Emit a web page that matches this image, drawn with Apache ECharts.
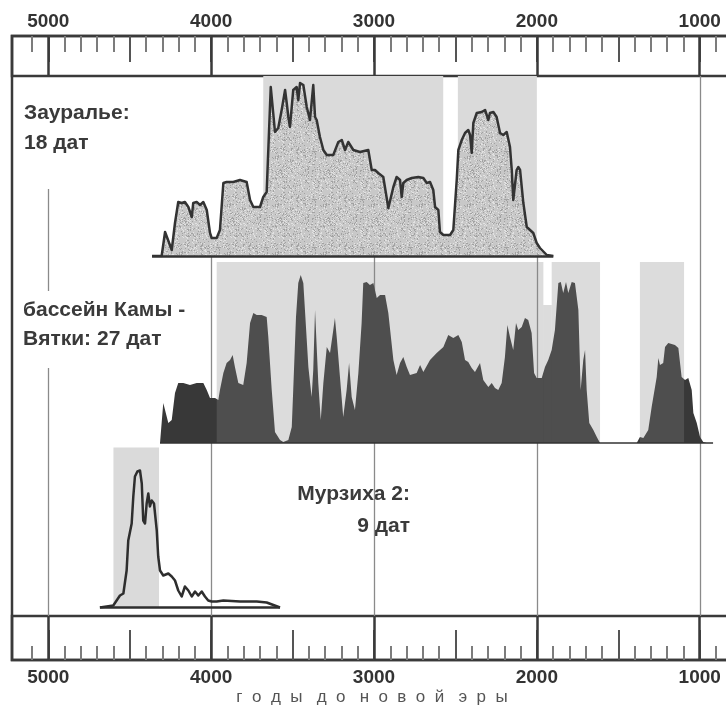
<!DOCTYPE html>
<html>
<head>
<meta charset="utf-8">
<title>Суммы вероятностей радиоуглеродных дат</title>
<script src="https://cdn.jsdelivr.net/npm/echarts@6.0.0/dist/echarts.min.js"></script>
<style>
  html, body { margin: 0; padding: 0; background: #ffffff; }
  #chart { width: 726px; height: 712px; }
</style>
</head>
<body>
<div id="chart"></div>
<script>
// ---------------------------------------------------------------
// Data: summed calibrated probability (relative units), years BC
// ---------------------------------------------------------------
const zauralyeYears = [
  4363, 4304, 4283, 4242, 4222, 4202, 4181, 4161, 4140, 4119,
  4110, 4089, 4068, 4048, 4027, 4007, 3997, 3966, 3946, 3925,
  3905, 3864, 3823, 3782, 3761, 3741, 3700, 3680, 3659, 3634,
  3608, 3588, 3567, 3546, 3536, 3526, 3516, 3496, 3475, 3465,
  3454, 3434, 3413, 3393, 3373, 3362, 3352, 3332, 3311, 3290,
  3250, 3219, 3198, 3178, 3158, 3127, 3086, 3035, 3014, 2994,
  2974, 2943, 2912, 2881, 2861, 2840, 2830, 2820, 2799, 2768,
  2728, 2697, 2676, 2656, 2636, 2625, 2605, 2595, 2574, 2533,
  2513, 2492, 2482, 2461, 2441, 2421, 2410, 2400, 2390, 2369,
  2339, 2318, 2298, 2288, 2267, 2247, 2226, 2206, 2185, 2165,
  2154, 2145, 2124, 2114, 2103, 2083, 2062, 2042, 2022, 2001,
  1981, 1939, 1899
];
const zauralyeProb = [
  0, 0, 24, 6, 33, 54, 53, 54, 49, 39,
  53, 54, 51, 54, 46, 23, 18, 18, 26, 73,
  74, 74, 76, 74, 56, 49, 49, 59, 64, 169,
  124, 128, 146, 166, 153, 139, 129, 166, 169, 156,
  173, 171, 149, 136, 171, 139, 136, 119, 106, 101,
  101, 114, 116, 106, 114, 106, 104, 106, 86, 86,
  83, 79, 48, 69, 79, 76, 59, 73, 76, 78,
  79, 78, 73, 74, 66, 49, 46, 24, 21, 21,
  26, 76, 106, 116, 123, 126, 121, 103, 133, 143,
  144, 146, 136, 143, 144, 139, 123, 121, 124, 109,
  86, 56, 86, 89, 86, 53, 29, 26, 23, 13,
  8, 1, 0
];

const kamaYears = [
  4314, 4294, 4283, 4263, 4242, 4222, 4202, 4171, 4130, 4089,
  4048, 4027, 4007, 3976, 3956, 3946, 3925, 3905, 3884, 3868,
  3854, 3833, 3803, 3782, 3761, 3741, 3720, 3690, 3659, 3649,
  3628, 3608, 3598, 3577, 3557, 3526, 3505, 3496, 3479, 3465,
  3450, 3434, 3424, 3403, 3383, 3373, 3362, 3352, 3342, 3327,
  3311, 3290, 3270, 3250, 3240, 3229, 3209, 3189, 3168, 3153,
  3137, 3117, 3096, 3076, 3066, 3045, 3025, 3004, 2983, 2963,
  2932, 2912, 2881, 2861, 2840, 2820, 2799, 2779, 2738, 2717,
  2697, 2656, 2615, 2574, 2544, 2513, 2482, 2461, 2441, 2421,
  2400, 2380, 2349, 2329, 2298, 2277, 2257, 2237, 2216, 2196,
  2181, 2165, 2145, 2128, 2114, 2093, 2073, 2053, 2032, 2017,
  2001, 1970, 1950, 1930, 1909, 1889, 1868, 1853, 1838, 1821,
  1807, 1786, 1766, 1745, 1731, 1715, 1704, 1694, 1678, 1653,
  1632, 1612, 1387, 1367, 1346, 1316, 1295, 1264, 1254, 1244,
  1224, 1213, 1193, 1152, 1131, 1111, 1090, 1070, 1049, 1039,
  1018, 998, 978, 957, 918
];
const kamaProb = [
  0, 40, 41, 20, 23, 50, 60, 60, 58, 60,
  60, 53, 45, 45, 43, 53, 70, 80, 83, 88,
  76, 60, 58, 80, 120, 130, 128, 128, 126, 106,
  53, 11, 13, 3, 1, 3, 16, 53, 126, 160,
  168, 160, 133, 76, 46, 73, 133, 133, 60, 23,
  60, 96, 90, 113, 125, 106, 66, 26, 53, 80,
  46, 33, 70, 120, 160, 161, 158, 160, 145, 148,
  148, 130, 83, 68, 80, 86, 76, 68, 70, 78,
  71, 83, 90, 96, 108, 105, 108, 101, 83, 81,
  75, 71, 80, 63, 56, 60, 55, 53, 60, 86,
  118, 106, 93, 120, 113, 116, 125, 123, 110, 70,
  65, 65, 76, 83, 93, 113, 160, 161, 150, 161,
  150, 161, 160, 133, 53, 83, 93, 53, 20, 13,
  6, 0, 0, 6, 5, 13, 36, 66, 85, 78,
  80, 96, 100, 98, 95, 66, 63, 65, 53, 30,
  20, 6, 1, 0, 0
];

const murzikhaYears = [
  4683, 4601, 4560, 4539, 4519, 4509, 4488, 4478, 4468, 4453,
  4437, 4426, 4417, 4406, 4396, 4386, 4376, 4365, 4351, 4334,
  4325, 4314, 4294, 4263, 4242, 4222, 4202, 4181, 4161, 4140,
  4119, 4099, 4079, 4058, 4038, 4018, 3997, 3966, 3925, 3823,
  3720, 3659, 3618, 3577
];
const murzikhaProb = [
  0, 2, 12, 14, 37, 67, 84, 111, 131, 136,
  137, 124, 87, 84, 104, 114, 101, 107, 104, 77,
  51, 37, 32, 34, 31, 27, 17, 11, 21, 17,
  11, 16, 12, 16, 11, 7, 6, 6, 7, 6,
  6, 5, 2.5, 0
];

// Highlighted intervals: [from, to, upper bound in the panel's units]
const zauralyeBands = [[3680, 2575, 180], [2485, 2000, 180]];
const kamaBands = [[3966, 1960, 181], [1960, 1909, 138], [1909, 1612, 181], [1367, 1096, 181]];
const murzikhaBands = [[4600, 4320, 160]];

// Axis ticks
const labelledYears = [5000, 4000, 3000, 2000, 1000];

// ---------------------------------------------------------------
// Layout
// ---------------------------------------------------------------
const W = 726;
const X5000 = 48.3;          // pixel position of 5000 BC
const PX_PER_YEAR = 0.16285; // horizontal scale
const xOf = (year) => X5000 + (5000 - year) * PX_PER_YEAR;
const FRAME_LEFT = 12;
const FRAME_MAX = 5000 + (X5000 - FRAME_LEFT) / PX_PER_YEAR;

const INK = '#3a3a3a';
const FONT = '"Liberation Sans", Arial, sans-serif';

// vertical guide lines (pixel spans between the scale boxes)
const RULE_SPANS = {
  5000: [[189, 291], [368, 616]],
  4000: [[257, 616]],
  3000: [[257, 616]],
  2000: [[257, 616]],
  1000: [[76, 616]]
};

function spanGrid(top, height, maxYear, extra) {
  return Object.assign({
    left: xOf(maxYear),
    right: W - xOf(0),
    top: top,
    height: height,
    containLabel: false,
    outerBoundsMode: 'none'
  }, extra || {});
}
const boxStyle = { show: true, borderColor: INK, borderWidth: 2.5, backgroundColor: 'transparent' };

const grids = [
  spanGrid(36, 624, FRAME_MAX, boxStyle),   // 0 outer frame + guide lines
  spanGrid(36, 40, FRAME_MAX, boxStyle),    // 1 top scale box
  spanGrid(616, 44, FRAME_MAX, boxStyle),   // 2 bottom scale box
  spanGrid(76, 180, FRAME_MAX),             // 3 Зауралье
  spanGrid(262, 181, FRAME_MAX),            // 4 Кама - Вятка
  spanGrid(447.5, 160, FRAME_MAX),          // 5 Мурзиха 2
  spanGrid(36, 40, 5100),                   // 6 top minor ticks
  spanGrid(36, 40, 5000),                   // 7 top 500-year ticks
  spanGrid(36, 40, 5000),                   // 8 top labelled ticks
  spanGrid(616, 44, 5100),                  // 9 bottom minor ticks
  spanGrid(616, 44, 5000),                  // 10 bottom 500-year ticks
  spanGrid(616, 44, 5000)                   // 11 bottom labelled ticks
];

const hiddenX = (g) => ({ gridIndex: g, type: 'value', min: 0, max: FRAME_MAX, inverse: true, show: false });
const hiddenY = (g, max) => ({ gridIndex: g, type: 'value', min: 0, max: max, show: false });

function tickAxis(g, position, max, interval, length, color, width, z, withLabels) {
  return {
    gridIndex: g, type: 'value', position: position, min: 0, max: max,
    interval: interval, inverse: true, z: z,
    axisLine: { show: false, onZero: false },
    splitLine: { show: false },
    axisTick: { show: true, inside: true, length: length, lineStyle: { color: color, width: width } },
    axisLabel: withLabels ? {
      show: true, margin: position === 'top' ? 5 : 8,
      fontFamily: FONT, fontSize: 19, fontWeight: 'bold', color: '#333',
      formatter: (v) => (labelledYears.indexOf(v) >= 0 ? String(v) : '')
    } : { show: false }
  };
}

const xAxes = [
  hiddenX(0), hiddenX(1), hiddenX(2), hiddenX(3), hiddenX(4), hiddenX(5),
  tickAxis(6, 'top', 5100, 100, 16, '#7c7c7c', 2, 1, false),
  tickAxis(7, 'top', 5000, 500, 26, '#555555', 2, 2, false),
  tickAxis(8, 'top', 5000, 1000, 40, INK, 2.5, 3, true),
  tickAxis(9, 'bottom', 5100, 100, 14, '#7c7c7c', 2, 1, false),
  tickAxis(10, 'bottom', 5000, 500, 30, '#555555', 2, 2, false),
  tickAxis(11, 'bottom', 5000, 1000, 44, INK, 2.5, 3, true)
];
const yAxes = grids.map((g, i) => hiddenY(i, i === 3 ? 180 : i === 4 ? 181 : i === 5 ? 160 : 1));

// light stippled fill for the upper curve
function stipplePattern() {
  const size = 48;
  const c = document.createElement('canvas');
  c.width = size; c.height = size;
  const g = c.getContext('2d');
  g.fillStyle = '#c8c8c8';
  g.fillRect(0, 0, size, size);
  let s = 17;
  for (let i = 0; i < size * size; i++) {
    s = (Math.imul(s, 1103515245) + 12345) >>> 0;
    const r = (s >>> 16) % 100;
    if (r < 26) {
      g.fillStyle = r < 13 ? '#a2a2a2' : '#e2e2e2';
      g.fillRect(i % size, Math.floor(i / size), 1, 1);
    }
  }
  return c;
}

const pairs = (xs, ys) => xs.map((x, i) => [x, ys[i]]);

function bandRenderer(fill) {
  return function (params, api) {
    const a = api.coord([api.value(0), 0]);
    const b = api.coord([api.value(1), api.value(2)]);
    return {
      type: 'rect',
      shape: { x: a[0], y: b[1], width: b[0] - a[0], height: a[1] - b[1] },
      style: { fill: fill }
    };
  };
}

function baseline(years, color, width) {
  return {
    silent: true, symbol: ['none', 'none'], label: { show: false },
    lineStyle: { color: color, width: width, type: 'solid' },
    data: [[{ coord: [years[0], 0] }, { coord: [years[years.length - 1], 0] }]]
  };
}

const series = [
  {
    type: 'custom', name: 'guides', xAxisIndex: 0, yAxisIndex: 0, z: 1, silent: true,
    data: labelledYears.map((y) => [y]),
    encode: { x: 0 },
    renderItem: function (params, api) {
      const year = api.value(0);
      const x = Math.round(api.coord([year, 0])[0]) + 0.5;
      return {
        type: 'group',
        children: RULE_SPANS[year].map((s) => ({
          type: 'line',
          shape: { x1: x, y1: s[0], x2: x, y2: s[1] },
          style: { stroke: '#8a8a8a', lineWidth: 1.3 }
        }))
      };
    }
  },
  {
    type: 'custom', name: 'Зауралье, интервалы', xAxisIndex: 3, yAxisIndex: 3, z: 2, silent: true,
    data: zauralyeBands, encode: { x: [0, 1], y: 2 },
    renderItem: bandRenderer('#dadada')
  },
  {
    type: 'line', name: 'Зауралье', xAxisIndex: 3, yAxisIndex: 3, z: 3,
    data: pairs(zauralyeYears, zauralyeProb),
    symbol: 'none',
    lineStyle: { color: '#333333', width: 2.5, join: 'round' },
    areaStyle: { color: { image: stipplePattern(), repeat: 'repeat' }, opacity: 1 },
    markLine: baseline(zauralyeYears, '#333333', 2.5)
  },
  {
    type: 'line', name: 'бассейн Камы - Вятки', xAxisIndex: 4, yAxisIndex: 4, z: 3,
    data: pairs(kamaYears, kamaProb),
    symbol: 'none',
    lineStyle: { width: 0 },
    areaStyle: { color: '#383838', opacity: 1 },
    markLine: baseline(kamaYears, '#333333', 1.5)
  },
  {
    type: 'custom', name: 'Кама - Вятка, интервалы', xAxisIndex: 4, yAxisIndex: 4, z: 4, silent: true,
    data: kamaBands, encode: { x: [0, 1], y: 2 },
    renderItem: bandRenderer('rgba(134,134,134,0.29)')
  },
  {
    type: 'custom', name: 'Мурзиха 2, интервалы', xAxisIndex: 5, yAxisIndex: 5, z: 2, silent: true,
    data: murzikhaBands, encode: { x: [0, 1], y: 2 },
    renderItem: bandRenderer('#dadada')
  },
  {
    type: 'line', name: 'Мурзиха 2', xAxisIndex: 5, yAxisIndex: 5, z: 3,
    data: pairs(murzikhaYears, murzikhaProb),
    symbol: 'none',
    lineStyle: { color: '#2e2e2e', width: 2.5, join: 'round' },
    markLine: baseline(murzikhaYears, '#2e2e2e', 2.5)
  }
];

const labelStyle = { fontFamily: FONT, fontSize: 21, fontWeight: 'bold', fill: INK, verticalAlign: 'top' };

const graphic = [
  { type: 'text', x: 24, y: 98, style: Object.assign({ text: 'Зауралье:\n18 дат', lineHeight: 30 }, labelStyle) },
  { type: 'text', x: 23, y: 296, style: Object.assign({ text: 'бассейн Камы -\nВятки: 27 дат', lineHeight: 29 }, labelStyle) },
  { type: 'text', x: 410, y: 478, style: Object.assign({ text: 'Мурзиха 2:\n9 дат', lineHeight: 32, align: 'right' }, labelStyle) },
  {
    type: 'text', x: 372, y: 697,
    style: {
      text: 'г  о  д  ы   д  о   н  о  в  о  й   э  р  ы',
      fontFamily: FONT, fontSize: 17, fill: '#555555', align: 'center', verticalAlign: 'middle'
    }
  }
];

const chart = echarts.init(document.getElementById('chart'), null, { renderer: 'canvas' });
chart.setOption({
  animation: false,
  backgroundColor: '#ffffff',
  grid: grids,
  xAxis: xAxes,
  yAxis: yAxes,
  series: series,
  graphic: graphic
});
</script>
</body>
</html>
